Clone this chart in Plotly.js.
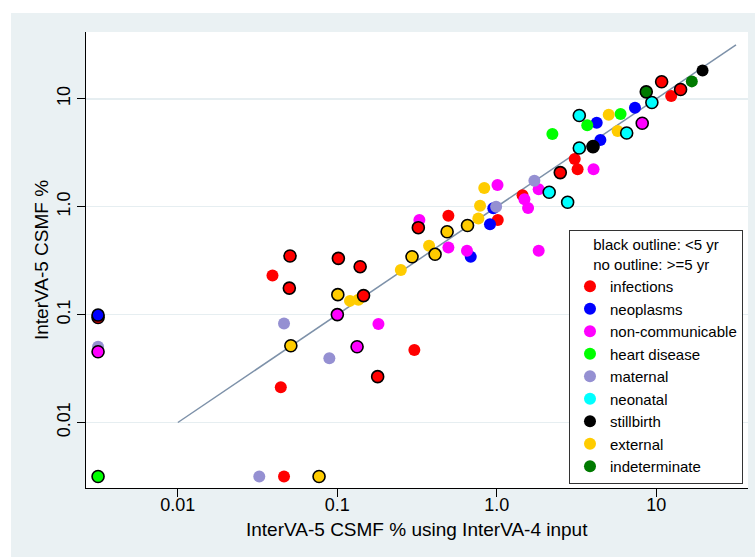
<!DOCTYPE html>
<html>
<head>
<meta charset="utf-8">
<script src="https://cdn.plot.ly/plotly-3.0.1.min.js"></script>
<style>
  html, body { margin: 0; padding: 0; background: #ffffff; width: 755px; height: 557px; overflow: hidden; }
  #chart { position: absolute; left: 11px; top: 13px; width: 744px; height: 544px; }
</style>
</head>
<body>
<div id="chart"></div>
<script>
// Zero shares are drawn at the floor position of the log axes
const ZERO_POS = 0.00316;

const categories = ['infections', 'neoplasms', 'non-communicable', 'heart disease',
  'maternal', 'neonatal', 'stillbirth', 'external', 'indeterminate'];
const categoryColors = ['#ff0000', '#0000ff', '#ff00ff', '#00ff00',
  '#9590d2', '#00ffff', '#000000', '#ffcc00', '#007a00'];

// x = InterVA-5 CSMF % using InterVA-4 input, y = InterVA-5 CSMF %, u5 = 1 if age group <5 yr
const infections_x  = [0.0392, 0.0442, 0.0463, 0.304, 0.497, 1.014, 1.45, 3.08, 3.21, 12.4,
                       0, 0.050, 0.0505, 0.1015, 0.139, 0.146, 0.179, 0.322, 2.50, 10.8, 14.2];
const infections_y  = [0.23, 0.0212, 0, 0.047, 0.826, 0.753, 1.28, 2.77, 2.22, 10.6,
                       0.094, 0.176, 0.349, 0.332, 0.278, 0.150, 0.0266, 0.639, 2.07, 14.4, 12.2];
const infections_u5 = [0,0,0,0,0,0,0,0,0,0, 1,1,1,1,1,1,1,1,1,1,1];

const neoplasms_x  = [0.686, 0.906, 0.950, 4.23, 4.46, 7.35, 0];
const neoplasms_y  = [0.344, 0.687, 0.966, 5.99, 4.15, 8.27, 0.099];
const neoplasms_u5 = [0,0,0,0,0,0, 1];

const noncomm_x  = [0.181, 0.327, 0.497, 0.650, 1.01, 1.49, 1.57, 1.83, 1.83, 4.04,
                    0, 0.1, 0.133, 8.16];
const noncomm_y  = [0.0818, 0.753, 0.419, 0.391, 1.59, 1.17, 0.973, 1.45, 0.391, 2.22,
                    0.0453, 0.1, 0.0504, 5.94];
const noncomm_u5 = [0,0,0,0,0,0,0,0,0,0, 1,1,1,1];

const heart_x  = [2.23, 3.69, 5.97, 0];
const heart_y  = [4.72, 5.68, 7.23, 0];
const heart_u5 = [0,0,0, 1];

const maternal_x  = [0, 0.0324, 0.0463, 0.0891, 0.99, 1.72];
const maternal_y  = [0.0504, 0, 0.0826, 0.0394, 1.0, 1.74];
const maternal_u5 = [0,0,0,0,0,0];

const neonatal_x  = [2.13, 2.78, 3.29, 3.29, 6.52, 9.38];
const neonatal_y  = [1.36, 1.10, 3.50, 7.0, 4.82, 9.24];
const neonatal_u5 = [1,1,1,1,1,1];

const stillbirth_x  = [19.5, 4.01];
const stillbirth_y  = [18.3, 3.60];
const stillbirth_u5 = [0, 1];

const external_x  = [0.120, 0.1355, 0.250, 0.376, 0.766, 0.785, 0.834, 5.03, 5.72,
                     0.0768, 0.0511, 0.1007, 0.294, 0.410, 0.488, 0.655];
const external_y  = [0.134, 0.137, 0.259, 0.435, 0.777, 1.02, 1.49, 7.12, 5.03,
                     0, 0.0514, 0.153, 0.344, 0.362, 0.586, 0.669];
const external_u5 = [0,0,0,0,0,0,0,0,0, 1,1,1,1,1,1,1];

const indet_x  = [16.7, 8.65];
const indet_y  = [14.5, 11.6];
const indet_u5 = [0, 1];

const diagonal = [0.01, 31.6];

const xTickVals = [0.01, 0.1, 1, 10];
const xTickText = ['0.01', '0.1', '1.0', '10'];
const yTickVals = [0.01, 0.1, 1, 10];
const yTickText = ['0.01', '0.1', '1.0', '10'];

const xTitle = 'InterVA-5 CSMF % using InterVA-4 input';
const yTitle = 'InterVA-5 CSMF %';

const series = [
  [infections_x, infections_y, infections_u5],
  [neoplasms_x, neoplasms_y, neoplasms_u5],
  [noncomm_x, noncomm_y, noncomm_u5],
  [heart_x, heart_y, heart_u5],
  [maternal_x, maternal_y, maternal_u5],
  [neonatal_x, neonatal_y, neonatal_u5],
  [stillbirth_x, stillbirth_y, stillbirth_u5],
  [external_x, external_y, external_u5],
  [indet_x, indet_y, indet_u5]
];

const FONT = 'Liberation Sans, Arial, Helvetica, sans-serif';
const MSIZE = 12;
const pos = v => (v === 0 ? ZERO_POS : v);

const traces = [];
// legend entries
categories.forEach((name, i) => {
  traces.push({
    type: 'scatter', mode: 'markers', name: name,
    x: [null], y: [null],
    marker: { color: categoryColors[i], size: MSIZE, line: { width: 0 } },
    showlegend: true, hoverinfo: 'skip'
  });
});
// 45-degree reference line
traces.push({
  type: 'scatter', mode: 'lines', x: diagonal, y: diagonal,
  line: { color: '#7d91a9', width: 1.5 }, showlegend: false, hoverinfo: 'skip'
});
// >=5 yr (no outline), then <5 yr (black outline)
[0, 1].forEach(group => {
  series.forEach((s, i) => {
    const xs = [], ys = [];
    s[0].forEach((v, k) => {
      if (s[2][k] === group) { xs.push(pos(v)); ys.push(pos(s[1][k])); }
    });
    if (!xs.length) return;
    traces.push({
      type: 'scatter', mode: 'markers', name: categories[i],
      x: xs, y: ys, showlegend: false,
      marker: {
        color: categoryColors[i], size: MSIZE,
        line: { color: '#000000', width: group === 1 ? 1.6 : 0 }
      }
    });
  });
});

const layout = {
  width: 744, height: 544,
  margin: { l: 75, r: 7, t: 19, b: 69, pad: 0 },
  paper_bgcolor: '#eaf1f3',
  plot_bgcolor: '#ffffff',
  font: { family: FONT, size: 18, color: '#000000' },
  showlegend: true,
  xaxis: {
    type: 'log', range: [-2.576, 1.575],
    tickmode: 'array', tickvals: xTickVals, ticktext: xTickText,
    ticks: 'outside', ticklen: 8, tickwidth: 1, tickcolor: '#000000',
    ticklabelstandoff: -8,
    showline: true, linecolor: '#000000', linewidth: 1, mirror: false,
    showgrid: false, zeroline: false,
    tickfont: { family: FONT, size: 18, color: '#000000' },
    automargin: false
  },
  yaxis: {
    type: 'log', range: [-2.607, 1.619],
    tickmode: 'array', tickvals: yTickVals, ticktext: yTickText,
    tickangle: -90,
    ticks: 'outside', ticklen: 8, tickwidth: 1, tickcolor: '#000000',
    showline: true, linecolor: '#000000', linewidth: 1, mirror: false,
    showgrid: true, gridcolor: '#e6eef1', gridwidth: 1.5, zeroline: false,
    tickfont: { family: FONT, size: 18, color: '#000000' },
    title: { text: yTitle, standoff: 0,
             font: { family: FONT, size: 19, color: '#000000' } },
    automargin: false
  },
  annotations: [{
    text: xTitle, xref: 'paper', yref: 'paper', x: 0.5, y: -0.092,
    xanchor: 'center', yanchor: 'middle', showarrow: false,
    font: { family: FONT, size: 19, color: '#000000' }
  }],
  legend: {
    x: 0.7296, y: 0.5658, xanchor: 'left', yanchor: 'top',
    bgcolor: '#ffffff', bordercolor: '#333333', borderwidth: 1,
    font: { family: FONT, size: 15, color: '#000000' },
    title: { text: 'black outline: &lt;5 yr<br>no outline: &gt;=5 yr', side: 'top center',
             font: { family: FONT, size: 15, color: '#000000' } },
    itemwidth: 30
  }
};

Plotly.newPlot('chart', traces, layout, { displayModeBar: false, staticPlot: true });
</script>
</body>
</html>
